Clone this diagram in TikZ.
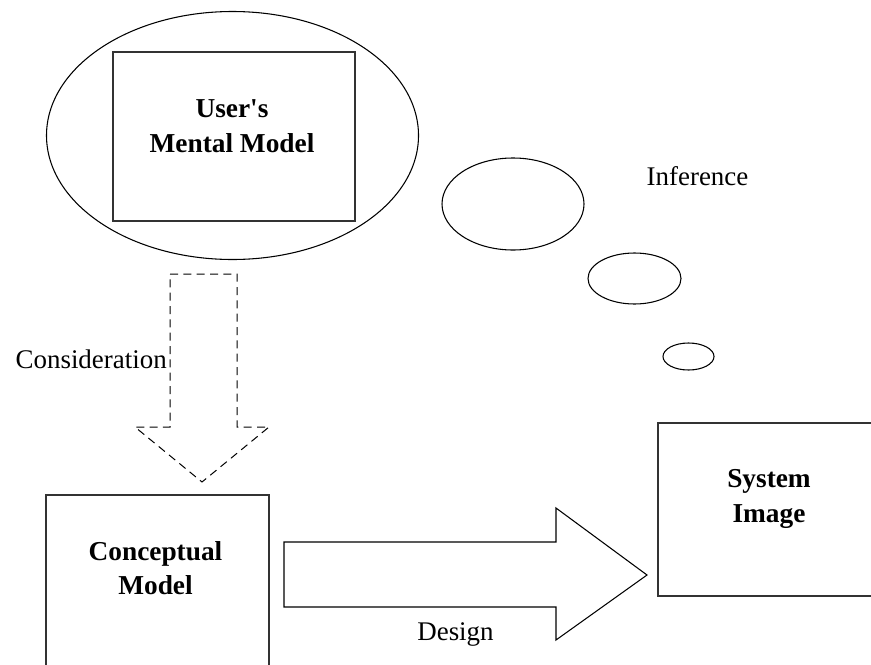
\documentclass[tikz,border=0pt]{standalone}
\usepackage{fontspec}
\setmainfont{Liberation Serif}
\tikzset{
	boxtext/.style = {align = center, font = \fontsize{20.5}{26}\selectfont\bfseries},
	plaintext/.style = {anchor = base, inner sep = 0pt, font = \fontsize{20.2}{24}\selectfont},
	frame/.style = {line width = 1.1pt, black!80},
	bubble/.style = {line width = 0.8pt},
}
\begin{document}
\begin{tikzpicture}[x = 0.75pt, y = -0.75pt, line join = miter]
	\useasboundingbox (0,0) rectangle (871,664);
	\clip (0,0) rectangle (871,664);
	\draw [bubble] (232.5,135.5) ellipse (186 and 124);
	\draw [frame] (113,52) rectangle (355,221);
	\node [boxtext] (umm) at (232,126) {User\textquotesingle s\\Mental Model};
	\draw [bubble] (513,204) ellipse (71 and 46);
	\draw [bubble] (634.5,278.5) ellipse (46.5 and 25.5);
	\draw [bubble] (688.5,356.5) ellipse (25.5 and 13.5);
	\node [plaintext] (inf) at (697.5,185) {Inference};
	\draw [line width = 0.75pt, dash pattern = on 6pt off 4pt] (170,274) -- (237,274) -- (237,427) -- (269,427) -- (202,482) -- (135,427) -- (170,427) -- cycle;
	\node [plaintext, anchor = base east] (cons) at (167,368) {Consideration};
	\draw [frame] (46,495) rectangle (269,675);
	\node [boxtext] (cm) at (155.5,568) {Conceptual\\Model};
	\draw [line width = 0.8pt] (284,542) -- (556,542) -- (556,508) -- (647,575) -- (556,640) -- (556,607) -- (284,607) -- cycle;
	\node [plaintext] (des) at (455.5,640) {Design};
	\draw [frame] (658,423) rectangle (885,596);
	\node [boxtext] (si) at (769,499) {System\\Image};
\end{tikzpicture}
\end{document}
